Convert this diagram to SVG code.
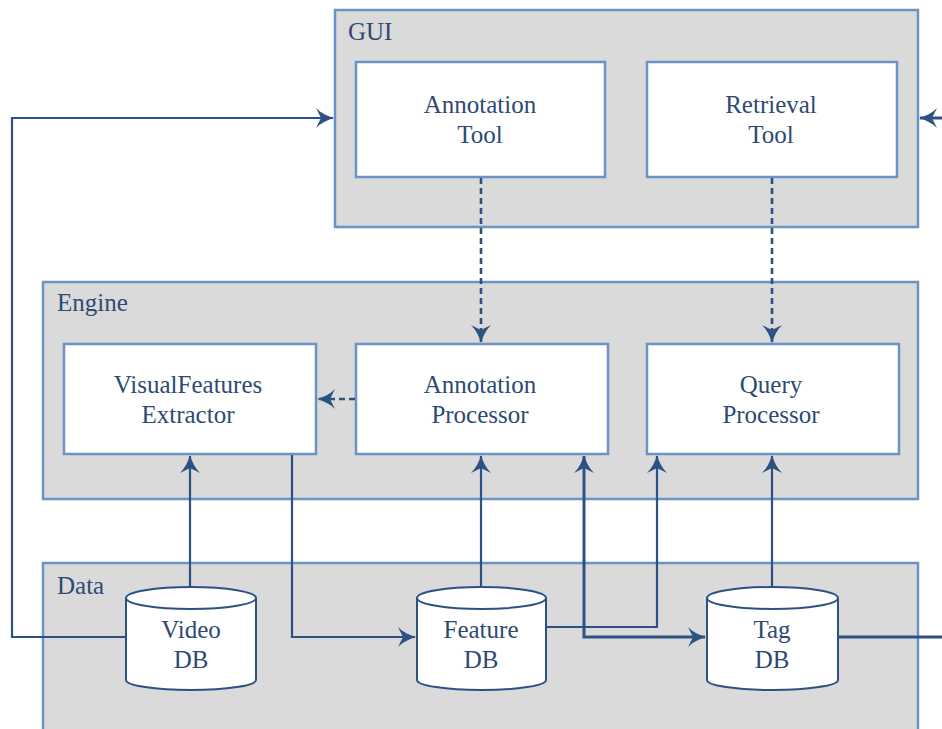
<svg xmlns="http://www.w3.org/2000/svg" width="942" height="729" viewBox="0 0 942 729">
<style>
.container{fill:#dadada;stroke:#6b93c6;stroke-width:2.5}
.box{fill:#ffffff;stroke:#6b93c6;stroke-width:2.5}
.cyl{fill:#ffffff;stroke:#2c5283;stroke-width:2}
.lbl{font-family:"Liberation Serif","Times New Roman",serif;font-size:25px;fill:#2e4a73}
.ctr{text-anchor:middle}
.conn{fill:none;stroke:#2c5283;stroke-width:2.2}
.dash{stroke-dasharray:6 4;stroke-width:2.6}
.thick{stroke-width:3}
</style>
<defs>
<marker id="arr" viewBox="-19 -11 21 22" refX="0" refY="0" markerWidth="21" markerHeight="22" markerUnits="userSpaceOnUse" orient="auto-start-reverse">
<path d="M1,0 C-6,-2 -12,-5 -17,-10 L-12,0 L-17,10 C-12,5 -6,2 1,0 Z" fill="#2c5283"/>
</marker>
</defs>

<g id="gui">
<rect class="container" x="335" y="10" width="583" height="217"/>
<text class="lbl" x="348" y="40">GUI</text>
</g>
<g id="engine">
<rect class="container" x="43" y="282" width="875" height="217"/>
<text class="lbl" x="57" y="311">Engine</text>
</g>
<g id="data">
<rect class="container" x="43" y="563" width="875" height="175"/>
<text class="lbl" x="57" y="594">Data</text>
</g>

<g id="annotation-tool">
<rect class="box" x="356" y="62" width="249" height="115"/>
<text class="lbl ctr" x="480" y="113">Annotation</text>
<text class="lbl ctr" x="480" y="143">Tool</text>
</g>
<g id="retrieval-tool">
<rect class="box" x="647" y="62" width="250" height="115"/>
<text class="lbl ctr" x="771" y="113">Retrieval</text>
<text class="lbl ctr" x="771" y="143">Tool</text>
</g>
<g id="visualfeatures-extractor">
<rect class="box" x="64" y="344" width="252" height="110"/>
<text class="lbl ctr" x="188" y="393">VisualFeatures</text>
<text class="lbl ctr" x="188" y="423">Extractor</text>
</g>
<g id="annotation-processor">
<rect class="box" x="356" y="344" width="252" height="110"/>
<text class="lbl ctr" x="480" y="393">Annotation</text>
<text class="lbl ctr" x="480" y="423">Processor</text>
</g>
<g id="query-processor">
<rect class="box" x="647" y="344" width="252" height="110"/>
<text class="lbl ctr" x="771" y="393">Query</text>
<text class="lbl ctr" x="771" y="423">Processor</text>
</g>

<g id="connectors">
<path class="conn" d="M126,637 H12 V118 H333" marker-end="url(#arr)"/>
<path class="conn thick" d="M942,118 H920" marker-end="url(#arr)"/>
<path class="conn dash" d="M481,178 V342" marker-end="url(#arr)"/>
<path class="conn dash" d="M772,178 V342" marker-end="url(#arr)"/>
<path class="conn dash" d="M355,399 H318" marker-end="url(#arr)"/>
<path class="conn" d="M190,588 V456" marker-end="url(#arr)"/>
<path class="conn" d="M292,455 V637 H415" marker-end="url(#arr)"/>
<path class="conn" d="M481,588 V456" marker-end="url(#arr)"/>
<path class="conn" d="M546,627 H657 V456" marker-end="url(#arr)"/>
<path class="conn thick" d="M584,456 V637 H705" marker-start="url(#arr)" marker-end="url(#arr)"/>
<path class="conn" d="M772,588 V456" marker-end="url(#arr)"/>
<path class="conn thick" d="M838,637 H942"/>
</g>

<g id="video-db">
<path class="cyl" d="M126,598 V680 A65,10 0 0 0 256,680 V598 A65,11 0 0 0 126,598 A65,11 0 0 0 256,598"/>
<text class="lbl ctr" x="191" y="638">Video</text>
<text class="lbl ctr" x="191" y="668">DB</text>
</g>
<g id="feature-db">
<path class="cyl" d="M417,598 V680 A64.5,10 0 0 0 546,680 V598 A64.5,11 0 0 0 417,598 A64.5,11 0 0 0 546,598"/>
<text class="lbl ctr" x="481" y="638">Feature</text>
<text class="lbl ctr" x="481" y="668">DB</text>
</g>
<g id="tag-db">
<path class="cyl" d="M707,598 V680 A65.5,10 0 0 0 838,680 V598 A65.5,11 0 0 0 707,598 A65.5,11 0 0 0 838,598"/>
<text class="lbl ctr" x="772" y="638">Tag</text>
<text class="lbl ctr" x="772" y="668">DB</text>
</g>
</svg>
